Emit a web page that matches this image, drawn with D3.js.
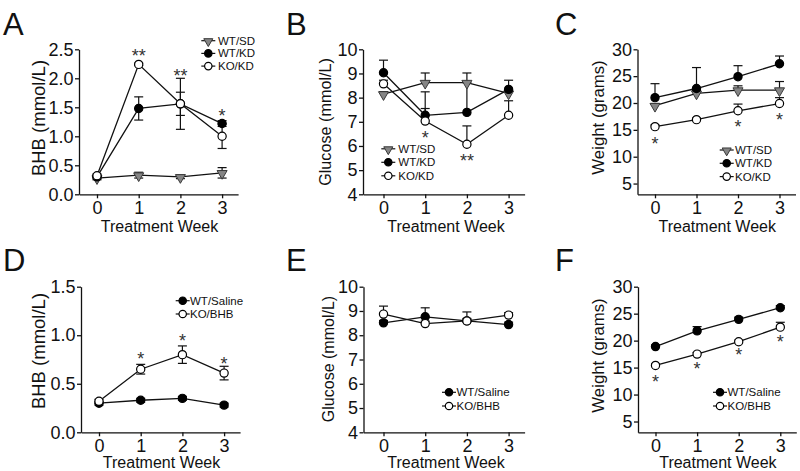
<!DOCTYPE html>
<html><head><meta charset="utf-8">
<script src="https://cdn.jsdelivr.net/npm/d3@7"></script>
<style>
body{margin:0;background:#fff}
svg{display:block}
text{font-family:"Liberation Sans",Arial,Helvetica,sans-serif}
</style>
</head><body>
<svg id="chart" width="800" height="471"></svg>
<script>
// ---------- DATA ----------
const weeks = [0, 1, 2, 3];
const weekTicks = [0, 1, 2, 3];
const xTitle = "Treatment Week";

// Panel A: BHB (mmol/L), ketogenic diet
const aLabels = ["WT/SD", "WT/KD", "KO/KD"];
const aWTSD = [0.28, 0.33, 0.30, 0.37];
const aWTSDerr = [0.03, 0.05, 0.03, 0.09];
const aWTKD = [0.30, 1.48, 1.56, 1.22];
const aWTKDerr = [0.03, 0.20, 0.20, 0.05];
const aKOKD = [0.32, 2.24, 1.56, 1.00];
const aKOKDerr = [0.03, 0.02, 0.44, 0.21];
const aTicks = [0, 0.5, 1.0, 1.5, 2.0, 2.5];
const aStars = [{week: 1, text: "**", at: 2.46}, {week: 2, text: "**", at: 2.11}, {week: 3, text: "*", at: 1.42}];

// Panel B: Glucose (mmol/L), ketogenic diet
const bWTSD = [8.15, 8.62, 8.62, 8.18];
const bWTSDerr = [0.10, 0.40, 0.40, 0.10];
const bWTKD = [9.03, 7.27, 7.39, 8.34];
const bWTKDerr = [0.52, 0.28, 1.23, 0.38];
const bKOKD = [8.57, 7.03, 6.07, 7.27];
const bKOKDerr = [0.15, 1.21, 0.76, 0.60];
const bTicks = [4, 5, 6, 7, 8, 9, 10];
const bStars = [{week: 1, text: "*", at: 6.48}, {week: 2, text: "**", at: 5.53}];

// Panel C: Weight (grams), ketogenic diet
const cWTSD = [19.5, 21.8, 22.4, 22.4];
const cWTSDerr = [0.4, 0.5, 0.8, 1.6];
const cWTKD = [21.0, 22.7, 24.9, 27.3];
const cWTKDerr = [2.6, 3.9, 2.05, 1.45];
const cKOKD = [15.6, 16.9, 18.55, 19.9];
const cKOKDerr = [0.3, 0.3, 1.25, 1.1];
const cTicks = [5, 10, 15, 20, 25, 30];
const cStars = [{week: 0, text: "*", at: 13.1}, {week: 2, text: "*", at: 16.2}, {week: 3, text: "*", at: 17.55}];

// Panel D: BHB (mmol/L), BHB injection
const dLabels = ["WT/Saline", "KO/BHB"];
const dWT = [0.30, 0.33, 0.35, 0.28];
const dWTerr = [0.02, 0.02, 0.02, 0.02];
const dKO = [0.32, 0.65, 0.80, 0.61];
const dKOerr = [0.02, 0.05, 0.09, 0.07];
const dTicks = [0, 0.5, 1.0, 1.5];
const dStars = [{week: 1, text: "*", at: 0.80}, {week: 2, text: "*", at: 0.985}, {week: 3, text: "*", at: 0.745}];

// Panel E: Glucose (mmol/L), BHB injection
const eWT = [8.51, 8.76, 8.59, 8.44];
const eWTerr = [0.10, 0.37, 0.10, 0.10];
const eKO = [8.87, 8.48, 8.59, 8.83];
const eKOerr = [0.33, 0.10, 0.37, 0.10];
const eTicks = [4, 5, 6, 7, 8, 9, 10];

// Panel F: Weight (grams), BHB injection
const fWT = [18.9, 21.8, 23.95, 26.1];
const fWTerr = [0.3, 0.8, 0.4, 0.4];
const fKO = [15.4, 17.5, 19.8, 22.5];
const fKOerr = [0.3, 0.3, 0.3, 0.9];
const fTicks = [5, 10, 15, 20, 25, 30];
const fStars = [{week: 0, text: "*", at: 13.1}, {week: 1, text: "*", at: 15.4}, {week: 2, text: "*", at: 18.0}, {week: 3, text: "*", at: 20.5}];

// ---------- LAYOUT ----------
const kdSeries = (s1, e1, s2, e2, s3, e3) => [
  {name: aLabels[0], type: "tri", values: s1, err: e1},
  {name: aLabels[1], type: "filled", values: s2, err: e2},
  {name: aLabels[2], type: "open", values: s3, err: e3}
];
const bhbSeries = (s1, e1, s2, e2) => [
  {name: dLabels[0], type: "filled", values: s1, err: e1},
  {name: dLabels[1], type: "open", values: s2, err: e2}
];

const panels = [
  {letter: "A", lx: 3, ly: 35, axisX: 79, x0: 97, step: 41.7, yTop: 49.3, yBot: 194.3, xt: 38, yDomain: [0, 2.5], yTicks: aTicks, fmt: ".1f",
   yTitle: "BHB (mmol/L)", tx: 45, ty: 118, tfs: 18.5, errMode: "both",
   series: kdSeries(aWTSD, aWTSDerr, aWTKD, aWTKDerr, aKOKD, aKOKDerr), stars: aStars,
   legend: {mx: 208.3, tx: 218, y0: 40.7, dy: 12.7}},
  {letter: "B", lx: 286, ly: 35, axisX: 363, x0: 383.5, step: 41.7, yTop: 49.3, yBot: 194.3, xt: 38, yDomain: [4, 10], yTicks: bTicks, fmt: "d",
   yTitle: "Glucose (mmol/L)", tx: 331, ty: 122, tfs: 16.2, errMode: "up",
   series: kdSeries(bWTSD, bWTSDerr, bWTKD, bWTKDerr, bKOKD, bKOKDerr), stars: bStars,
   legend: {mx: 388.3, tx: 398.3, y0: 148.8, dy: 13.5}},
  {letter: "C", lx: 555, ly: 35, axisX: 637.5, x0: 655, step: 41.5, yTop: 49.3, yBot: 194.3, xt: 38, yDomain: [3, 30], yTicks: cTicks, fmt: "d",
   yTitle: "Weight (grams)", tx: 604, ty: 117.5, tfs: 16.8, errMode: "up",
   series: kdSeries(cWTSD, cWTSDerr, cWTKD, cWTKDerr, cKOKD, cKOKDerr), stars: cStars,
   legend: {mx: 726.7, tx: 735, y0: 150, dy: 13.3}},
  {letter: "D", lx: 3, ly: 271, axisX: 81, x0: 99, step: 41.7, yTop: 286.7, yBot: 432.3, xt: 35.3, yDomain: [0, 1.5], yTicks: dTicks, fmt: ".1f",
   yTitle: "BHB (mmol/L)", tx: 45, ty: 351, tfs: 18.5, errMode: "both",
   series: bhbSeries(dWT, dWTerr, dKO, dKOerr), stars: dStars,
   legend: {mx: 182.7, tx: 190, y0: 300.7, dy: 13.3}},
  {letter: "E", lx: 286, ly: 271, axisX: 363.5, x0: 383.5, step: 41.7, yTop: 286.7, yBot: 432.3, xt: 35.3, yDomain: [4, 10], yTicks: eTicks, fmt: "d",
   yTitle: "Glucose (mmol/L)", tx: 334, ty: 359, tfs: 16, errMode: "up",
   series: bhbSeries(eWT, eWTerr, eKO, eKOerr), stars: [],
   legend: {mx: 449, tx: 456.5, y0: 392.3, dy: 13.7}},
  {letter: "F", lx: 555, ly: 271, axisX: 638, x0: 655.5, step: 41.6, yTop: 286.7, yBot: 432.3, xt: 35.3, yDomain: [3, 30], yTicks: fTicks, fmt: "d",
   yTitle: "Weight (grams)", tx: 604, ty: 355.5, tfs: 16.8, errMode: "up",
   series: bhbSeries(fWT, fWTerr, fKO, fKOerr), stars: fStars,
   legend: {mx: 720, tx: 727.5, y0: 392.3, dy: 13.7}}
];

// ---------- DRAW ----------
const svg = d3.select("#chart");
svg.append("rect").attr("width", 800).attr("height", 471).attr("fill", "#fff");

const R = 4.1;
function marker(g, type, cx, cy, r) {
  if (type === "tri") {
    g.append("path")
      .attr("d", d3.symbol().type(d3.symbolTriangle).size(r * r * 2.6)())
      .attr("transform", `translate(${cx},${cy + 0.6}) rotate(180)`)
      .attr("fill", "#858585").attr("stroke", "#3a3a3a").attr("stroke-width", 1);
  } else {
    g.append("circle").attr("cx", cx).attr("cy", cy).attr("r", r)
      .attr("fill", type === "filled" ? "#000" : "#fff")
      .attr("stroke", "#000").attr("stroke-width", 1.2);
  }
}

panels.forEach(p => {
  const g = svg.append("g");
  const xMin = -(p.x0 - p.axisX) / p.step;
  const xMax = 3 + 16 / p.step;
  const x = d3.scaleLinear().domain([xMin, xMax]).range([p.axisX, p.axisX + (xMax - xMin) * p.step]);
  const y = d3.scaleLinear().domain(p.yDomain).range([p.yBot, p.yTop]);

  // panel letter
  g.append("text").attr("x", p.lx).attr("y", p.ly).attr("font-size", 31).attr("fill", "#111").text(p.letter);

  // axes
  const xa = g.append("g").attr("transform", `translate(0,${p.yBot})`)
    .call(d3.axisBottom(x).tickValues(weekTicks).tickSize(4).tickPadding(2.5).tickSizeOuter(0).tickFormat(d3.format("d")));
  const ya = g.append("g").attr("transform", `translate(${p.axisX},0)`)
    .call(d3.axisLeft(y).tickValues(p.yTicks).tickSize(4).tickPadding(1.5).tickSizeOuter(0).tickFormat(d3.format(p.fmt)));
  [xa, ya].forEach(a => {
    a.select(".domain").attr("stroke", "#111").attr("stroke-width", 1.3);
    a.selectAll(".tick line").attr("stroke", "#111").attr("stroke-width", 1.3);
    a.selectAll(".tick text").attr("font-size", 18).attr("fill", "#111")
      .style("font-family", '"Liberation Sans",Arial,Helvetica,sans-serif');
  });

  // axis titles
  g.append("text").attr("x", (x(0) + x(3)) / 2).attr("y", p.yBot + p.xt)
    .attr("text-anchor", "middle").attr("font-size", 16).attr("fill", "#111").text(xTitle);
  g.append("text").attr("transform", `translate(${p.tx},${p.ty}) rotate(-90)`)
    .attr("text-anchor", "middle").attr("font-size", p.tfs).attr("fill", "#111").text(p.yTitle);

  // connecting lines
  const line = d3.line().x((d, i) => x(weeks[i])).y(d => y(d));
  p.series.forEach(s => {
    g.append("path").attr("d", line(s.values)).attr("fill", "none")
      .attr("stroke", "#111").attr("stroke-width", 1.3);
  });

  // error bars
  p.series.forEach(s => {
    s.values.forEach((v, i) => {
      const e = s.err[i];
      const cx = x(weeks[i]);
      const top = y(v + e);
      const bot = p.errMode === "both" ? y(v - e) : y(v);
      g.append("line").attr("x1", cx).attr("x2", cx).attr("y1", top).attr("y2", bot)
        .attr("stroke", "#111").attr("stroke-width", 1.2);
      g.append("line").attr("x1", cx - 4.5).attr("x2", cx + 4.5).attr("y1", top).attr("y2", top)
        .attr("stroke", "#111").attr("stroke-width", 1.2);
      if (p.errMode === "both") {
        g.append("line").attr("x1", cx - 4.5).attr("x2", cx + 4.5).attr("y1", bot).attr("y2", bot)
          .attr("stroke", "#111").attr("stroke-width", 1.2);
      }
    });
  });

  // markers
  p.series.forEach(s => {
    s.values.forEach((v, i) => marker(g, s.type, x(weeks[i]), y(v), R));
  });

  // significance stars
  p.stars.forEach(st => {
    g.append("text").attr("x", x(st.week)).attr("y", y(st.at) + 10)
      .attr("text-anchor", "middle").attr("font-size", 18).attr("fill", "#333").text(st.text);
  });

  // legend
  p.series.forEach((s, k) => {
    const ly = p.legend.y0 + k * p.legend.dy;
    g.append("line").attr("x1", p.legend.mx - 7).attr("x2", p.legend.mx + 7).attr("y1", ly).attr("y2", ly)
      .attr("stroke", "#111").attr("stroke-width", 1.2);
    marker(g, s.type, p.legend.mx, ly, 3.7);
    g.append("text").attr("x", p.legend.tx).attr("y", ly + 4).attr("font-size", 11.5).attr("fill", "#111").text(s.name);
  });
});
</script>
</body></html>
